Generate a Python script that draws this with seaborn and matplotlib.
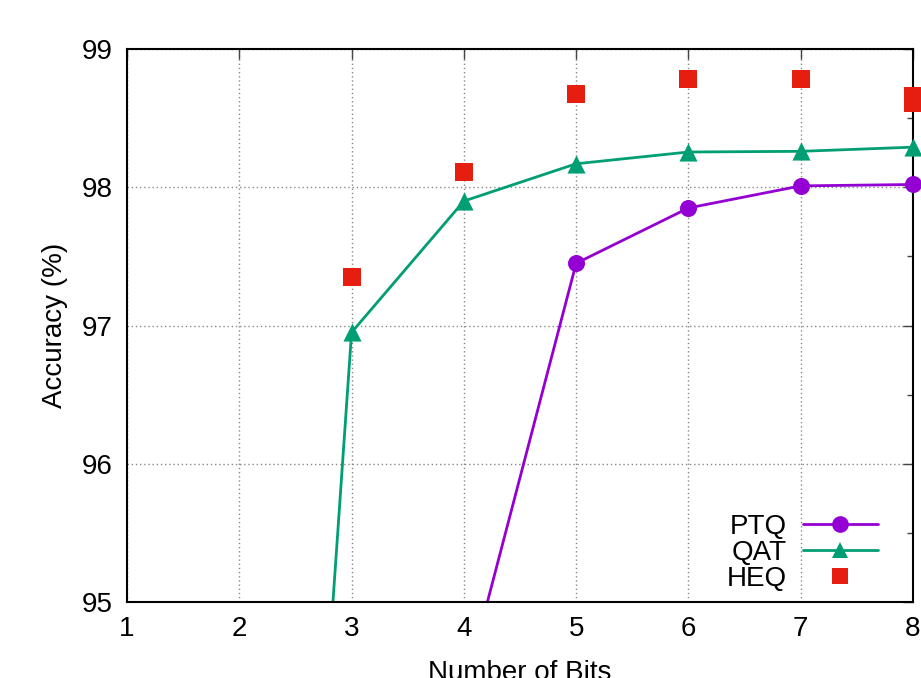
import numpy as np
import pandas as pd
import matplotlib
matplotlib.use("Agg")
import matplotlib.pyplot as plt
import seaborn as sns
from matplotlib.lines import Line2D

bits = [2, 3, 4, 5, 6, 7, 8]
ptq_acc = [40.0, 70.0, 94.35, 97.45, 97.85, 98.01, 98.02]
qat_acc = [85.2, 96.95, 97.90, 98.17, 98.255, 98.26, 98.29]
heq_bits = [3, 4, 5, 6, 7, 8, 8]
heq_acc = [97.35, 98.11, 98.675, 98.785, 98.785, 98.66, 98.61]

sns.set_style("white")
plt.rcParams["font.family"] = ["Liberation Sans", "DejaVu Sans"]
plt.rcParams["text.color"] = "black"
plt.rcParams["axes.labelcolor"] = "black"
plt.rcParams["xtick.color"] = "black"
plt.rcParams["ytick.color"] = "black"

df = pd.DataFrame({
    "Bits": bits * 2,
    "Accuracy": ptq_acc + qat_acc,
    "Method": ["PTQ"] * len(bits) + ["QAT"] * len(bits),
})
heq = pd.DataFrame({"Bits": heq_bits, "Accuracy": heq_acc})

colors = {"PTQ": "#9400d3", "QAT": "#009e73"}
markers = {"PTQ": "o", "QAT": "^"}
lw = 2.0

fig = plt.figure(figsize=(9.21, 6.78), dpi=100)
ax = fig.add_axes([0.1379, 0.1121, 0.8534, 0.8156])

sns.lineplot(data=df, x="Bits", y="Accuracy", hue="Method", style="Method",
             palette=colors, markers=False, dashes=False,
             linewidth=lw, ax=ax, legend=False)

# markers sitting on the frame are not clipped
for m in ["PTQ", "QAT"]:
    sub = df[(df["Method"] == m) & (df["Accuracy"] >= 95)]
    ax.scatter(sub["Bits"], sub["Accuracy"], marker=markers[m],
               s=150 if m == "PTQ" else 170, color=colors[m], linewidths=0, zorder=4)

sns.scatterplot(data=heq, x="Bits", y="Accuracy", marker="s", s=150,
                color="#e51e10", linewidth=0, ax=ax, zorder=5)
for c in ax.collections:
    c.set_clip_on(False)

ax.set_xlim(1, 8)
ax.set_ylim(95, 99)
ax.set_xticks(range(1, 9))
ax.set_yticks([95, 96, 97, 98, 99])
ax.set_yticks([95.5, 96.5, 97.5, 98.5], minor=True)
ax.tick_params(axis="both", which="major", direction="in", length=7, width=1,
               labelsize=20, color="#444444", pad=10)
ax.tick_params(axis="y", which="minor", direction="in", length=4, width=1, color="#444444")
ax.tick_params(axis="x", which="major", top=True)
ax.tick_params(axis="y", which="both", right=True)
ax.grid(True, which="major", linestyle=(0, (1, 2)), color="#888888", linewidth=1)
ax.set_axisbelow(True)
for s in ax.spines.values():
    s.set_linewidth(1.5)
    s.set_color("black")
    s.set_zorder(3)

ax.set_xlabel("Number of Bits", fontsize=20, labelpad=13)
ax.set_ylabel("Accuracy (%)", fontsize=20, labelpad=10)

handles = [
    Line2D([], [], color=colors["PTQ"], marker="o", markersize=12, linewidth=lw, markeredgewidth=0),
    Line2D([], [], color=colors["QAT"], marker="^", markersize=12, linewidth=lw, markeredgewidth=0),
    Line2D([], [], color="#e51e10", marker="s", markersize=11, linestyle="none", markeredgewidth=0),
]
ax.legend(handles, ["PTQ", "QAT", "HEQ"], loc="lower right", frameon=False,
          markerfirst=False, fontsize=20, handlelength=2.7, labelspacing=0.0,
          handletextpad=0.58, borderaxespad=0, borderpad=0,
          bbox_to_anchor=(0.955, 0.018))

fig.savefig("out.png", dpi=100)
